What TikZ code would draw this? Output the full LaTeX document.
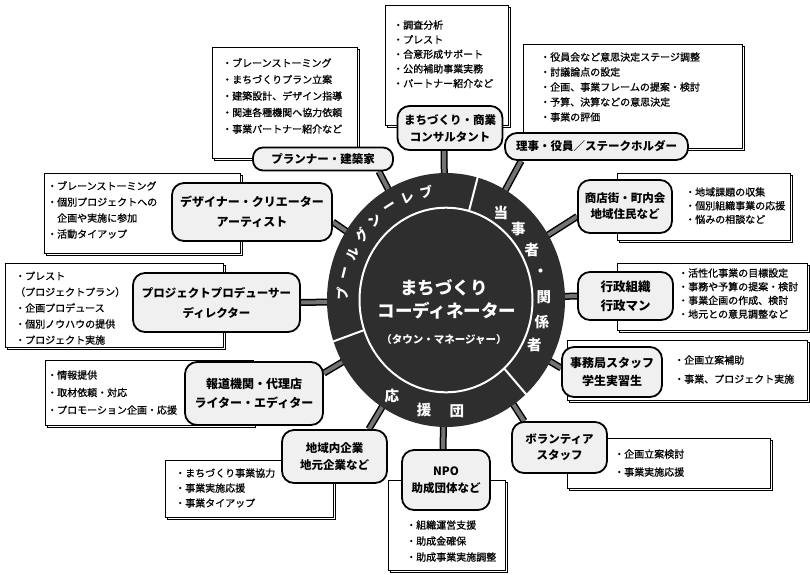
\documentclass[tikz,border=0pt]{standalone}
\usepackage{fontspec}
\setmainfont{Noto Sans CJK JP}
\newfontfamily\boxfont[FakeBold=0.8]{Noto Sans CJK JP}
\usetikzlibrary{calc,shadows}
\pgfdeclarelayer{boxes}
\pgfdeclarelayer{spokes}
\pgfdeclarelayer{ring}
\pgfsetlayers{boxes,spokes,ring,main}
\tikzset{
  infobox/.style={draw=black, line width=0.9pt, fill=white, rectangle, inner sep=0pt,
     drop shadow={shadow xshift=2.5pt, shadow yshift=-2.5pt, fill=white, draw=black, line width=0.9pt, opacity=1}},
  role/.style={draw=black, line width=1.8pt, rounded corners=12pt, fill=black!6, align=center, inner sep=0pt,
     font=\bfseries\fontsize{11.5}{17}\selectfont},
  linetext/.style={anchor=west, inner sep=0pt, text height=7.6pt, text depth=0pt, font=\boxfont\fontsize{10}{12}\selectfont},
  spokeouter/.style={line width=7pt, draw=black},
  spokeinner/.style={line width=4pt, draw=black!55},
  ringtext/.style={text=white, inner sep=0pt, font=\bfseries\fontsize{14.5}{14}\selectfont},
  ringtextsmall/.style={text=white, inner sep=0pt, font=\bfseries\fontsize{13}{13}\selectfont},
  centertext/.style={text=white, inner sep=0pt, font=\bfseries\fontsize{17.5}{20}\selectfont},
}
\newcommand\boxlines[5]{\foreach \t [count=\i] in {#5} {\node[linetext] (#1\i) at ({#2},{#3+(\i-1)*#4}) {\t};}}
\begin{document}
\begin{tikzpicture}[x=1pt,y=-1pt]
\useasboundingbox (0,0) rectangle (810,574);

% ---------- info boxes ----------
\begin{pgfonlayer}{boxes}
\fill[white] (0,0) rectangle (810,574);
\node[infobox, minimum width=123pt, minimum height=120pt] (ba) at (446.5,65) {};
\node[infobox, minimum width=219pt, minimum height=104pt] (bb) at (632.5,96) {};
\node[infobox, minimum width=145pt, minimum height=111pt] (bc) at (284.5,102.5) {};
\node[infobox, minimum width=196pt, minimum height=80pt] (bd) at (142,213) {};
\node[infobox, minimum width=218pt, minimum height=84pt] (be) at (114,305) {};
\node[infobox, minimum width=208pt, minimum height=65pt] (bf) at (149,392.5) {};
\node[infobox, minimum width=168pt, minimum height=57pt] (bg) at (249,488.5) {};
\node[infobox, minimum width=117pt, minimum height=90pt] (bh) at (446.5,525) {};
\node[infobox, minimum width=203pt, minimum height=50pt] (bi) at (668.5,463) {};
\node[infobox, minimum width=240pt, minimum height=60pt] (bj) at (687,370) {};
\node[infobox, minimum width=190pt, minimum height=67pt] (bk) at (712,296.5) {};
\node[infobox, minimum width=173pt, minimum height=67pt] (bl) at (703.5,206.5) {};

\boxlines{ta}{393}{25}{14.6}{{・調査分析},{・プレスト},{・合意形成サポート},{・公的補助事業実務},{・パートナー紹介など}}
\boxlines{tb}{540}{57}{15}{{・役員会など意思決定ステージ調整},{・討議論点の設定},{・企画、事業フレームの提案・検討},{・予算、決算などの意思決定},{・事業の評価}}
\boxlines{tc}{222}{63}{16.5}{{・ブレーンストーミング},{・まちづくりプラン立案},{・建築設計、デザイン指導},{・関連各種機関へ協力依頼},{・事業パートナー紹介など}}
\boxlines{td}{47}{186}{16}{{・ブレーンストーミング},{・個別プロジェクトへの},{　企画や実施に参加},{・活動タイアップ}}
\boxlines{te}{15}{276}{16}{{・プレスト},{（プロジェクトプラン）},{・企画プロデュース},{・個別ノウハウの提供},{・プロジェクト実施}}
\boxlines{tf}{47}{375}{17.5}{{・情報提供},{・取材依頼・対応},{・プロモーション企画・応援}}
\boxlines{tg}{175}{473}{15}{{・まちづくり事業協力},{・事業実施応援},{・事業タイアップ}}
\boxlines{th}{406}{525}{16}{{・組織運営支援},{・助成金確保},{・助成事業実施調整}}
\boxlines{ti}{614}{454}{18}{{・企画立案検討},{・事業実施応援}}
\boxlines{tj}{674}{360}{19}{{・企画立案補助},{・事業、プロジェクト実施}}
\boxlines{tk}{678}{273}{13.7}{{・活性化事業の目標設定},{・事務や予算の提案・検討},{・事業企画の作成、検討},{・地元との意見調整など}}
\boxlines{tl}{685}{192}{13.7}{{・地域課題の収集},{・個別組織事業の応援},{・悩みの相談など}}
\end{pgfonlayer}

% ---------- role nodes ----------
\node[role, minimum width=105pt, minimum height=44pt, font=\bfseries\fontsize{11.5}{17}\selectfont] (A) at (450,128) {まちづくり・商業\\コンサルタント};
\node[role, minimum width=183pt, minimum height=27pt] (B) at (596.5,146.5) {理事・役員／ステークホルダー};
\node[role, minimum width=140pt, minimum height=23pt, rounded corners=10pt] (C) at (323,159) {プランナー・建築家};
\node[role, minimum width=160pt, minimum height=58pt, font=\bfseries\fontsize{12}{20}\selectfont] (D) at (252,212) {デザイナー・クリエーター\\アーティスト};
\node[role, minimum width=167pt, minimum height=59pt, font=\bfseries\fontsize{11.5}{20}\selectfont] (E) at (216.5,302.5) {プロジェクトプロデューサー\\ディレクター};
\node[role, minimum width=138pt, minimum height=63pt, font=\bfseries\fontsize{12}{19}\selectfont] (F) at (254,393.5) {報道機関・代理店\\ライター・エディター};
\node[role, minimum width=105pt, minimum height=53pt] (G) at (334.5,456.5) {地域内企業\\地元企業など};
\node[role, minimum width=88pt, minimum height=60pt] (H) at (446,480) {NPO\\助成団体など};
\node[role, minimum width=95pt, minimum height=51pt, font=\bfseries\fontsize{11.5}{16}\selectfont] (I) at (559.5,447.5) {ボランティア\\スタッフ};
\node[role, minimum width=100pt, minimum height=50pt, font=\bfseries\fontsize{12}{18}\selectfont] (J) at (612,372) {事務局スタッフ\\学生実習生};
\node[role, minimum width=95pt, minimum height=48pt, font=\bfseries\fontsize{12.5}{19}\selectfont] (K) at (625.5,296) {行政組織\\行政マン};
\node[role, minimum width=94pt, minimum height=53pt, font=\bfseries\fontsize{11.5}{16}\selectfont] (L) at (625,206.5) {商店街・町内会\\地域住民など};

% ---------- spokes ----------
\coordinate (ctr) at (446,300);
\begin{pgfonlayer}{spokes}
\foreach \st in {spokeouter,spokeinner}{
  \draw[\st] (ctr) -- ($(A.south)+(-6,0)$);
  \draw[\st] (ctr) -- ($(B.south west)+(17,0)$);
  \draw[\st] (ctr) -- ($(C.south east)+(-15,0)$);
  \draw[\st] (ctr) -- ($(D.east)+(0,10)$);
  \draw[\st] (ctr) -- (E.east);
  \draw[\st] (ctr) -- ($(F.north east)+(0,12)$);
  \draw[\st] (ctr) -- ($(G.north east)+(-19,0)$);
  \draw[\st] (ctr) -- ($(H.north)+(-3,0)$);
  \draw[\st] (ctr) -- ($(I.north west)+(13,0)$);
  \draw[\st] (ctr) -- ($(J.west)+(0,-4)$);
  \draw[\st] (ctr) -- (K.west);
  \draw[\st] (ctr) -- ($(L.west)+(0,10)$);
}
\end{pgfonlayer}

% ---------- central ring ----------
\begin{pgfonlayer}{ring}
\begin{scope}[shift={(446,300)}, yscale=-1.067]
  \fill[black!82] (0,0) circle (119);
  \draw[white, line width=2pt] (0,0) circle (86.5);
  \foreach \a in {74.6,-47.8,199} \draw[white, line width=2pt] (\a:86.5) -- (\a:120);
\end{scope}
\end{pgfonlayer}

\begin{scope}[shift={(446,300)}, yscale=-1.067]
  \foreach \c [count=\i] in {当,事,者,・,関,係,者}
    \node[ringtext] (r\i) at ({56-(\i-1)*13.6}:98) {\c};
  \foreach \c/\a [count=\i] in {応/-121,援/-102,団/-84}
    \node[ringtext] (s\i) at (\a:105) {\c};
  \foreach \c [count=\i] in {ブ,レ,ー,ン,グ,ル,ー,プ}
    \node[ringtextsmall, rotate={11+(\i-1)*10.8}] (g\i) at ({101+(\i-1)*10.8}:103) {\c};
\end{scope}

\node[centertext] (c1) at (444,288) {まちづくり};
\node[centertext] (c2) at (447,311) {コーディネーター};
\node[centertext, font=\bfseries\fontsize{10.5}{12}\selectfont] (c3) at (444,340) {（タウン・マネージャー）};
\end{tikzpicture}
\end{document}
